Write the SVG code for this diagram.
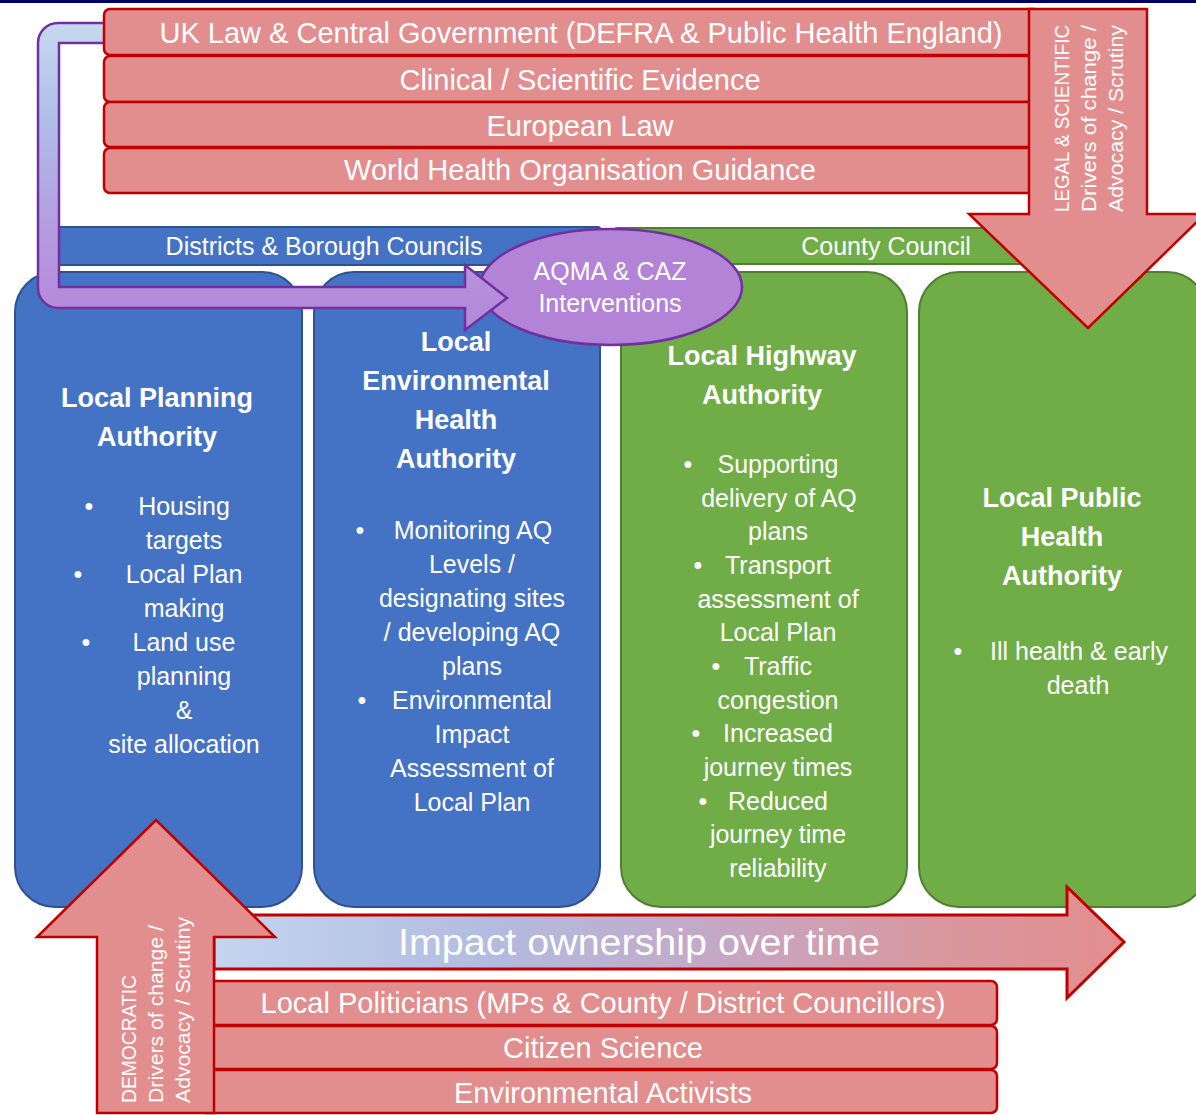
<svg xmlns="http://www.w3.org/2000/svg" width="1196" height="1115" viewBox="0 0 1196 1115">
<defs>
<linearGradient id="pg" gradientUnits="userSpaceOnUse" x1="0" y1="23" x2="0" y2="308">
<stop offset="0" stop-color="#C8D8EF"/><stop offset="0.35" stop-color="#AEBDE7"/><stop offset="0.7" stop-color="#B49EE0"/><stop offset="1" stop-color="#B48ADA"/>
</linearGradient>
<linearGradient id="ig" gradientUnits="userSpaceOnUse" x1="214" y1="0" x2="1124" y2="0">
<stop offset="0" stop-color="#C4D5EF"/><stop offset="0.3" stop-color="#B2BCE0"/><stop offset="0.55" stop-color="#C4A8C6"/><stop offset="0.8" stop-color="#D9979E"/><stop offset="1" stop-color="#E28E8E"/>
</linearGradient>
<style>
.red{fill:#E28E8E;stroke:#C00000;stroke-width:2.5}
.blue{fill:#4472C4;stroke:#2F528F;stroke-width:2}
.green{fill:#70AD47;stroke:#507E32;stroke-width:2}
text{font-family:"Liberation Sans",Arial,sans-serif;fill:#FFFFFF}
.bar{font-size:29px;text-anchor:middle}
.hd{font-size:27px;font-weight:bold;text-anchor:middle}
.bd{font-size:25px;text-anchor:middle}
.rot{font-size:21px}
</style>
</defs>
<rect x="0" y="0" width="1196" height="3" fill="#000066"/>

<g id="box-lpa">
<rect class="blue" x="15" y="272" width="287" height="635" rx="40"/>
<text class="hd" x="157" y="407">Local Planning</text>
<text class="hd" x="157" y="446">Authority</text>
<text class="bd" x="89" y="515">•</text><text class="bd" x="184" y="515">Housing</text>
<text class="bd" x="184" y="549">targets</text>
<text class="bd" x="78" y="583">•</text><text class="bd" x="184" y="583">Local Plan</text>
<text class="bd" x="184" y="617">making</text>
<text class="bd" x="86" y="651">•</text><text class="bd" x="184" y="651">Land use</text>
<text class="bd" x="184" y="685">planning</text>
<text class="bd" x="184" y="719">&amp;</text>
<text class="bd" x="184" y="753">site allocation</text>
</g>

<g id="box-leha">
<rect class="blue" x="314" y="272" width="286" height="635" rx="40"/>
<text class="hd" x="456" y="351">Local</text>
<text class="hd" x="456" y="390">Environmental</text>
<text class="hd" x="456" y="429">Health</text>
<text class="hd" x="456" y="468">Authority</text>
<text class="bd" x="360" y="539">•</text><text class="bd" x="473" y="539">Monitoring AQ</text>
<text class="bd" x="472" y="573">Levels /</text>
<text class="bd" x="472" y="607">designating sites</text>
<text class="bd" x="472" y="641">/ developing AQ</text>
<text class="bd" x="472" y="675">plans</text>
<text class="bd" x="362" y="709">•</text><text class="bd" x="472" y="709">Environmental</text>
<text class="bd" x="472" y="743">Impact</text>
<text class="bd" x="472" y="777">Assessment of</text>
<text class="bd" x="472" y="811">Local Plan</text>
</g>

<g id="box-lha">
<rect class="green" x="621" y="272" width="286" height="635" rx="40"/>
<text class="hd" x="762" y="365">Local Highway</text>
<text class="hd" x="762" y="404">Authority</text>
<text class="bd" x="688" y="473">•</text><text class="bd" x="778" y="473">Supporting</text>
<text class="bd" x="779" y="507">delivery of AQ</text>
<text class="bd" x="778" y="540">plans</text>
<text class="bd" x="698" y="574">•</text><text class="bd" x="778" y="574">Transport</text>
<text class="bd" x="778" y="608">assessment of</text>
<text class="bd" x="778" y="641">Local Plan</text>
<text class="bd" x="716" y="675">•</text><text class="bd" x="778" y="675">Traffic</text>
<text class="bd" x="778" y="709">congestion</text>
<text class="bd" x="696" y="742">•</text><text class="bd" x="778" y="742">Increased</text>
<text class="bd" x="778" y="776">journey times</text>
<text class="bd" x="703" y="810">•</text><text class="bd" x="778" y="810">Reduced</text>
<text class="bd" x="778" y="843">journey time</text>
<text class="bd" x="778" y="877">reliability</text>
</g>

<g id="box-lpha">
<rect class="green" x="919" y="272" width="288" height="635" rx="40"/>
<text class="hd" x="1062" y="507">Local Public</text>
<text class="hd" x="1062" y="546">Health</text>
<text class="hd" x="1062" y="585">Authority</text>
<text class="bd" x="958" y="660">•</text><text class="bd" x="1079" y="660">Ill health &amp; early</text>
<text class="bd" x="1078" y="694">death</text>
</g>

<g id="districts">
<rect class="blue" x="45" y="227" width="555" height="38" rx="2"/>
<text class="bd" x="324" y="255">Districts &amp; Borough Councils</text>
</g>
<g id="county">
<rect class="green" x="615" y="228" width="425" height="36" rx="2"/>
<text class="bd" x="886" y="255">County Council</text>
</g>

<g id="aqma">
<ellipse cx="611" cy="287" rx="131" ry="58" fill="#B383D8" stroke="#7030A0" stroke-width="2.5"/>
<text class="bd" x="610" y="280">AQMA &amp; CAZ</text>
<text class="bd" x="610" y="312">Interventions</text>
</g>

<g id="connectors">
<path d="M106,23 H58 A20,20 0 0 0 38,43 V288 A20,20 0 0 0 58,308 H465 V330 L507,298 L465,265 V287 H59 V43 H106" fill="url(#pg)" stroke="#7030A0" stroke-width="2.5" stroke-linejoin="miter"/>
<path d="M214,915 H1067 V887 L1124,942 L1067,998 V969 H214 Z" fill="url(#ig)" stroke="#C00000" stroke-width="3"/>
</g>

<g id="top-drivers">
<rect class="red" x="104" y="9" width="936" height="46" rx="6"/>
<rect class="red" x="104" y="56" width="936" height="46" rx="6"/>
<rect class="red" x="104" y="102" width="936" height="45" rx="6"/>
<rect class="red" x="104" y="148" width="936" height="45" rx="6"/>
<text class="bar" x="581" y="43">UK Law &amp; Central Government (DEFRA &amp; Public Health England)</text>
<text class="bar" x="580" y="90">Clinical / Scientific Evidence</text>
<text class="bar" x="580" y="136">European Law</text>
<text class="bar" x="580" y="180">World Health Organisation Guidance</text>
</g>

<g id="legal-arrow">
<path class="red" d="M1029,9 H1147 V214 H1205 L1088,328 L969,214 H1029 Z"/>
<text class="rot" transform="translate(1069,212) rotate(-90)" textLength="187" lengthAdjust="spacingAndGlyphs">LEGAL &amp; SCIENTIFIC</text>
<text class="rot" transform="translate(1096,212) rotate(-90)" textLength="187" lengthAdjust="spacingAndGlyphs">Drivers of change /</text>
<text class="rot" transform="translate(1123,212) rotate(-90)" textLength="187" lengthAdjust="spacingAndGlyphs">Advocacy / Scrutiny</text>
</g>

<g id="impact-label">
<text x="639" y="955" font-size="37" text-anchor="middle" textLength="482" lengthAdjust="spacingAndGlyphs">Impact ownership over time</text>
</g>

<g id="bottom-drivers">
<rect class="red" x="200" y="981" width="797" height="44" rx="6"/>
<rect class="red" x="200" y="1026" width="797" height="43" rx="6"/>
<rect class="red" x="200" y="1070" width="797" height="43" rx="6"/>
<text class="bar" x="603" y="1013">Local Politicians (MPs &amp; County / District Councillors)</text>
<text class="bar" x="603" y="1058">Citizen Science</text>
<text class="bar" x="603" y="1103">Environmental Activists</text>
</g>

<g id="democratic-arrow">
<path class="red" d="M97,1113 V937 H37 L156,820 L275,937 H214 V1113 Z"/>
<text class="rot" transform="translate(136,1103) rotate(-90)" textLength="128" lengthAdjust="spacingAndGlyphs">DEMOCRATIC</text>
<text class="rot" transform="translate(163,1103) rotate(-90)" textLength="178" lengthAdjust="spacingAndGlyphs">Drivers of change /</text>
<text class="rot" transform="translate(190,1103) rotate(-90)" textLength="186" lengthAdjust="spacingAndGlyphs">Advocacy / Scrutiny</text>
</g>
</svg>
